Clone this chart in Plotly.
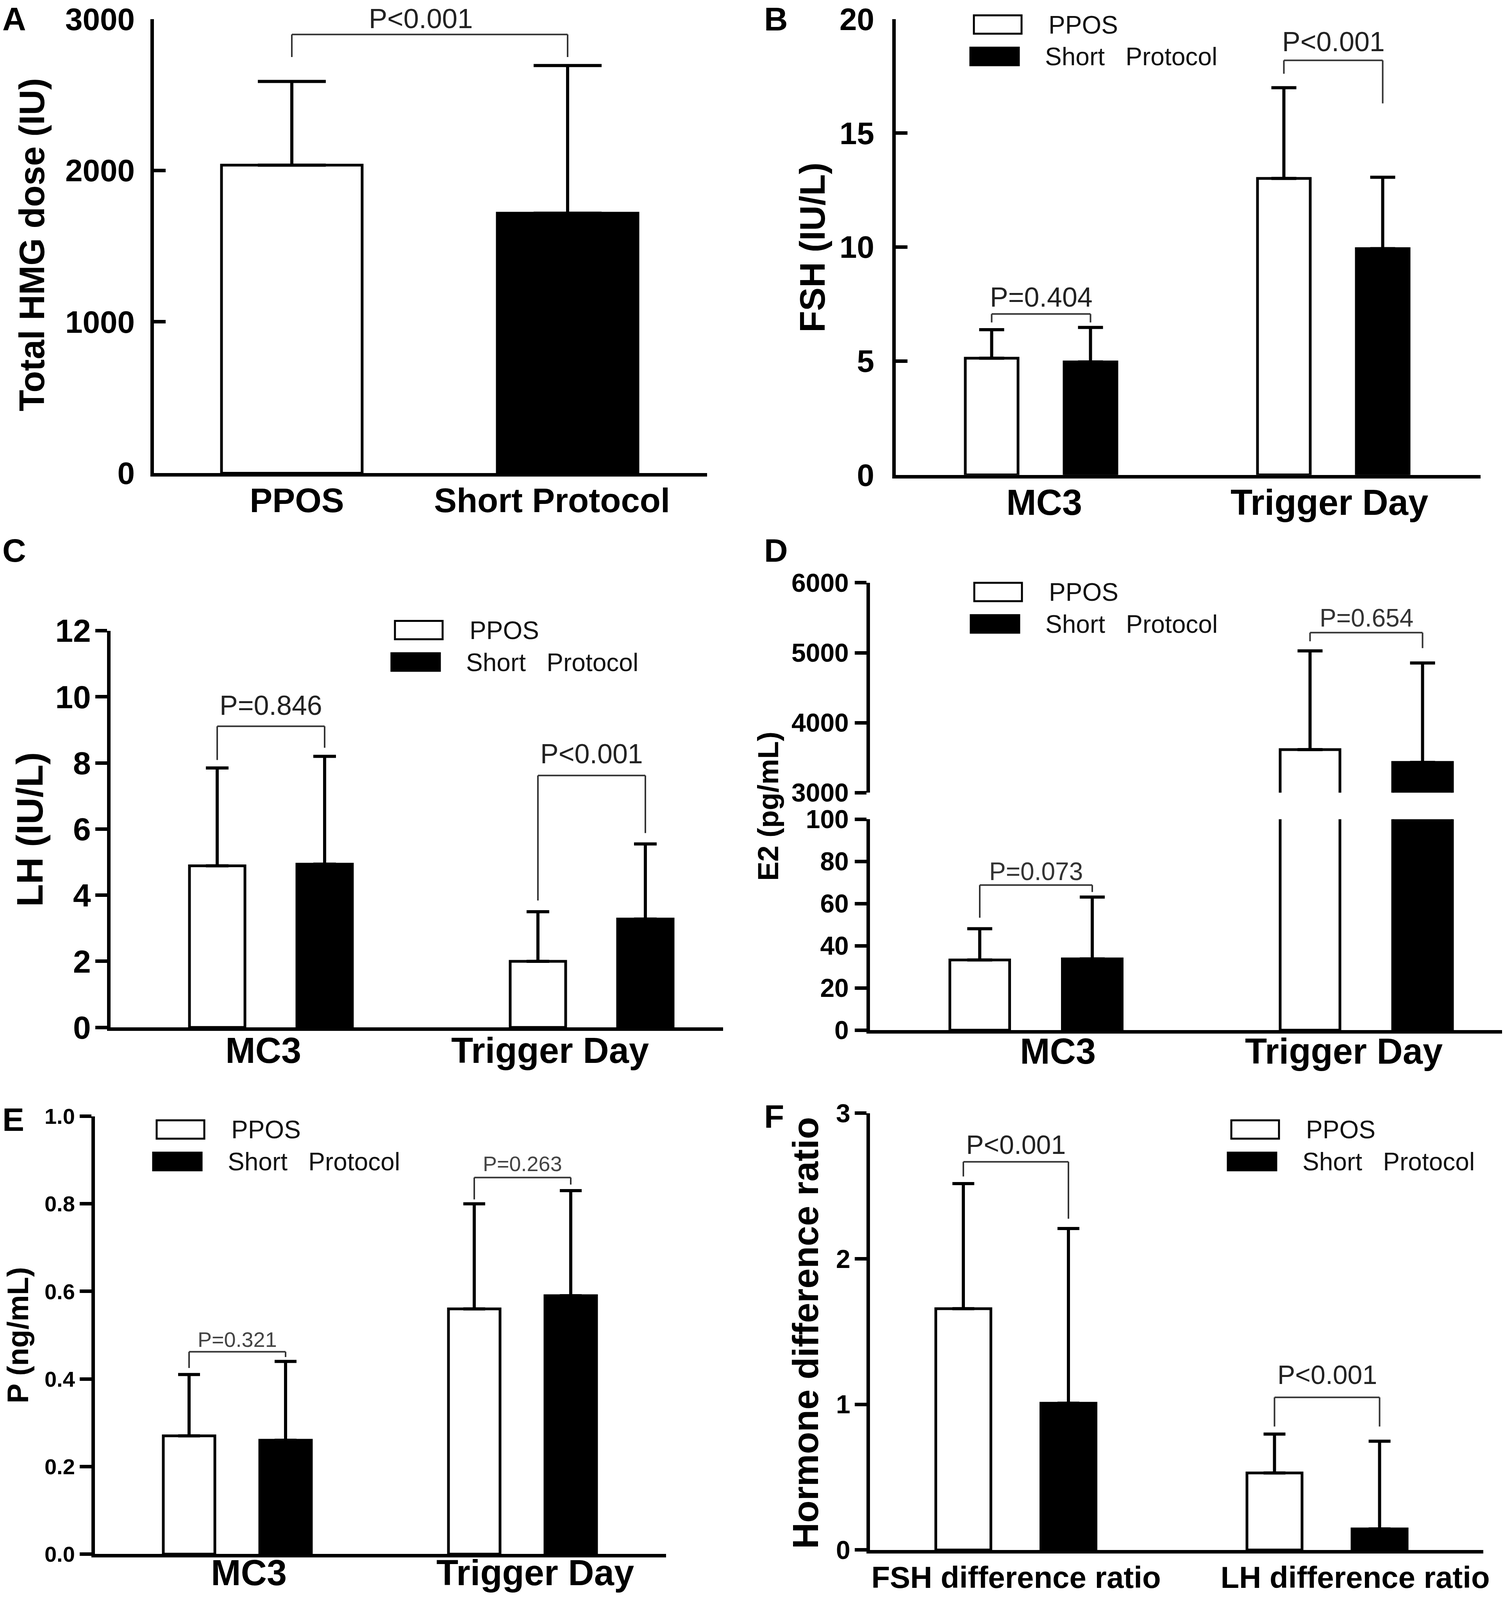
import json
import plotly.graph_objects as go

W, H = 3850, 4703
FONT = "Liberation Sans, Arial, Helvetica, sans-serif"

# ---------------- data ----------------
series_names = ["PPOS", "Short\u00a0\u00a0\u00a0Protocol"]

# A: total HMG dose
a_categories = ["PPOS", "Short Protocol"]
a_mean = [2035, 1718]
a_sd = [553, 975]
a_p = ["P<0.001"]
a_br_top = [2898]
a_br_left = [2749]
a_br_right = [2749]

# B: FSH
b_categories = ["MC3", "Trigger Day"]
b_ppos_mean = [5.12, 13.01]
b_ppos_sd = [1.25, 3.98]
b_short_mean = [4.96, 9.93]
b_short_sd = [1.51, 3.13]
b_p = ["P=0.404", "P<0.001"]
b_br_top = [7.06, 18.19]
b_br_left = [6.69, 17.6]
b_br_right = [6.69, 16.3]
b_p_y = [7.8, 19.0]

# C: LH
c_categories = ["MC3", "Trigger Day"]
c_ppos_mean = [4.89, 2.00]
c_ppos_sd = [2.96, 1.50]
c_short_mean = [4.94, 3.28]
c_short_sd = [3.26, 2.27]
c_p = ["P=0.846", "P<0.001"]
c_br_top = [9.11, 7.62]
c_br_left = [8.09, 3.84]
c_br_right = [8.46, 5.88]
c_p_y = [9.74, 8.28]

# D: E2 (broken axis)
d_categories = ["MC3", "Trigger Day"]
d_ppos_mean = [33.3, 3615]
d_ppos_sd = [14.8, 1412]
d_short_mean = [33.8, 3433]
d_short_sd = [29.3, 1421]
d_p = ["P=0.073", "P=0.654"]
d_br_top = [68.8, 5287]
d_br_left = [53.3, 5164]
d_br_right = [65.5, 5066]
d_p_y = [75.3, 5499]

# E: P
e_categories = ["MC3", "Trigger Day"]
e_ppos_mean = [0.27, 0.56]
e_ppos_sd = [0.14, 0.24]
e_short_mean = [0.26, 0.59]
e_short_sd = [0.18, 0.24]
e_p = ["P=0.321", "P=0.263"]
e_br_top = [0.462, 0.860]
e_br_left = [0.425, 0.81]
e_br_right = [0.45, 0.844]
e_p_y = [0.49, 0.892]

# F: hormone difference ratio
f_categories = ["FSH difference ratio", "LH difference ratio"]
f_ppos_mean = [1.657, 0.529]
f_ppos_sd = [0.859, 0.267]
f_short_mean = [1.008, 0.145]
f_short_sd = [1.200, 0.602]
f_p = ["P<0.001", "P<0.001"]
f_br_top = [2.666, 1.048]
f_br_left = [2.565, 0.848]
f_br_right = [2.275, 0.848]
f_p_y = [2.784, 1.205]

# ---------------- helpers ----------------
def px_x(p):
    return p / W


def px_y(p):
    return 1 - p / H


fig = go.Figure()
layout = dict(width=W, height=H, margin=dict(l=0, r=0, t=0, b=0),
              plot_bgcolor="white", paper_bgcolor="white",
              showlegend=False, barmode="overlay")
shapes = []
annotations = []
label_offsets = {}   # x axis name -> [standoff, label-centre distance from axis]

LINE_W = 9
BAR_LINE = 7
ERR_T = 8


def ax_name(n, kind):
    return kind + ("axis" if n == 1 else "axis%d" % n)


def ref(n, kind):
    return kind if n == 1 else "%s%d" % (kind, n)


def add_xaxis(n, yn, xdom, g, cats, label_px, fsize, standoff, centre_dist):
    s = g[1] - g[0]
    r0 = -(g[0] - xdom[0]) / s
    r1 = (xdom[1] - g[0]) / s
    tickvals = [i + (label_px[i] - g[i]) / s for i in range(len(cats))]
    layout[ax_name(n, "x")] = dict(
        domain=[px_x(xdom[0]), px_x(xdom[1])], range=[r0, r1],
        anchor=ref(yn, "y"), showline=True, linecolor="black", linewidth=LINE_W,
        ticks="", showgrid=False, zeroline=False, tickmode="array",
        tickvals=tickvals, ticktext=cats,
        tickfont=dict(family=FONT, size=fsize, color="black", weight="bold"),
        ticklabelstandoff=standoff, ticklabeloverflow="allow",
        automargin=False, fixedrange=True)
    label_offsets[ax_name(n, "x")] = [standoff, centre_dist]
    return s


def add_yaxis(n, xn, ydom, rng, dtick, ticks, fsize, standoff, fmt=None):
    d = dict(domain=[px_y(ydom[1]), px_y(ydom[0])], range=rng,
             anchor=ref(xn, "x"), showline=True, linecolor="black", linewidth=LINE_W,
             ticks=ticks, ticklen=30, tickwidth=LINE_W, tickcolor="black",
             tickmode="linear", tick0=0, dtick=dtick, showgrid=False, zeroline=False,
             tickfont=dict(family=FONT, size=fsize, color="black", weight="bold"),
             ticklabelstandoff=standoff, ticklabeloverflow="allow",
             automargin=False, fixedrange=True)
    if fmt:
        d["tickformat"] = fmt
    layout[ax_name(n, "y")] = d


def add_pair(xn, yn, means_p, sd_p, means_s, sd_s, half_u, w_u, cap):
    xs = list(range(len(means_p)))
    for means, sds, col, off in [(means_p, sd_p, "white", -half_u - w_u / 2),
                                 (means_s, sd_s, "black", half_u - w_u / 2)]:
        fig.add_trace(go.Bar(
            x=xs, y=means, xaxis=ref(xn, "x"), yaxis=ref(yn, "y"),
            offset=off, width=w_u,
            marker=dict(color=col, line=dict(color="black", width=BAR_LINE)),
            error_y=dict(type="data", symmetric=False, array=sds,
                         arrayminus=[0 if v is not None else None for v in sds],
                         color="black", thickness=ERR_T, width=cap),
            hoverinfo="skip"))


def add_brackets(xn, yn, xl, xr, top, left_end, right_end, p_txt, p_y, fsize, color):
    for i in range(len(top)):
        for (xa, ya, xb, yb) in [(xl[i], left_end[i], xl[i], top[i]),
                                 (xl[i], top[i], xr[i], top[i]),
                                 (xr[i], top[i], xr[i], right_end[i])]:
            shapes.append(dict(type="line", xref=ref(xn, "x"), yref=ref(yn, "y"),
                               x0=xa, y0=ya, x1=xb, y1=yb,
                               line=dict(color="#333333", width=4)))
        if p_y is not None:
            annotations.append(dict(x=(xl[i] + xr[i]) / 2, y=p_y[i],
                                    xref=ref(xn, "x"), yref=ref(yn, "y"),
                                    text=p_txt[i], showarrow=False,
                                    xanchor="center", yanchor="middle",
                                    font=dict(family=FONT, size=fsize, color=color)))


def add_legend(left, top):
    shapes.append(dict(type="rect", xref="paper", yref="paper",
                       x0=px_x(left + 10), x1=px_x(left + 132),
                       y0=px_y(top + 54), y1=px_y(top),
                       fillcolor="white", line=dict(color="black", width=5)))
    shapes.append(dict(type="rect", xref="paper", yref="paper",
                       x0=px_x(left), x1=px_x(left + 126),
                       y0=px_y(top + 148), y1=px_y(top + 94),
                       fillcolor="black", line=dict(color="black", width=3)))
    for k, (tx, ty) in enumerate([(left + 199, top + 28), (left + 190, top + 122)]):
        annotations.append(dict(x=px_x(tx), y=px_y(ty), xref="paper", yref="paper",
                                text=series_names[k], showarrow=False,
                                xanchor="left", yanchor="middle",
                                font=dict(family=FONT, size=64, color="#111111")))


def add_text(xp, yp, txt, size, bold=True, angle=0, anchor="center", color="black",
             vanchor="middle"):
    annotations.append(dict(x=px_x(xp), y=px_y(yp), xref="paper", yref="paper",
                            text=txt, showarrow=False, textangle=angle,
                            xanchor=anchor, yanchor=vanchor,
                            font=dict(family=FONT, size=size, color=color,
                                      weight="bold" if bold else "normal")))


def add_letter(xp, ytop, letter):
    add_text(xp, ytop, letter, 84, anchor="left", vanchor="top")


# ---------------- Panel A ----------------
sA = add_xaxis(1, 1, (394, 1810), (747, 1453), a_categories, (760, 1413), 87, -3, 89)
add_yaxis(1, 1, (56, 1391), [0, 3000], 1000, "inside", 80, 24)
fig.add_trace(go.Bar(
    x=list(range(len(a_mean))), y=a_mean, xaxis="x", yaxis="y", width=360 / sA,
    marker=dict(color=["white", "black"], line=dict(color="black", width=BAR_LINE)),
    error_y=dict(type="data", symmetric=False, array=a_sd, arrayminus=[0, 0],
                 color="black", thickness=ERR_T, width=87),
    hoverinfo="skip"))
add_brackets(1, 1, [0], [1], a_br_top, a_br_left, a_br_right, a_p, None, 71, "#222222")
add_text(1077, 55, a_p[0], 71, bold=False, color="#222222")
add_text(82, 720, "Total HMG dose (IU)", 90, angle=-90)
add_letter(4, 0, "A")

# ---------------- Panel B ----------------
sB = add_xaxis(2, 2, (2293, 3790), (2665, 3413), b_categories, (2673, 3403), 92, -6, 89)
add_yaxis(2, 2, (56, 1396), [0, 20], 5, "inside", 80, 30)
hB, wB = 126.5 / sB, 135 / sB
add_pair(2, 2, b_ppos_mean, b_ppos_sd, b_short_mean, b_short_sd, hB, wB, 32)
add_brackets(2, 2, [i - hB for i in range(2)], [i + hB for i in range(2)],
             b_br_top, b_br_left, b_br_right, b_p, b_p_y, 70, "#222222")
add_legend(2483, 45)
add_text(2080, 728, "FSH (IU/L)", 90, angle=-90)
add_letter(1954, 0, "B")

# ---------------- Panel C ----------------
sC = add_xaxis(3, 3, (283, 1851), (693.5, 1514.5), c_categories, (674, 1408), 92, -19, 77)
add_yaxis(3, 3, (1854, 3020), [0, 12], 2, "outside", 82, -5)
hC, wC = 137.5 / sC, 142 / sC
add_pair(3, 3, c_ppos_mean, c_ppos_sd, c_short_mean, c_short_sd, hC, wC, 29)
add_brackets(3, 3, [i - hC for i in range(2)], [i + hC for i in range(2)],
             c_br_top, c_br_left, c_br_right, c_p, c_p_y, 70, "#222222")
add_legend(1001, 1825)
add_text(76, 2438, "LH (IU/L)", 95, angle=-90)
add_letter(4, 1562, "C")

# ---------------- Panel D (broken y axis) ----------------
D_LOW_TOP = 100
D_UP_BOTTOM = 3000
sD = add_xaxis(4, 4, (2227, 3845), (2652, 3497.5), d_categories, (2708, 3440), 92, -25, 69)
add_yaxis(4, 4, (2408, 3028), [0, D_LOW_TOP], 20, "outside", 66, 2)
add_yaxis(7, 4, (1713, 2330), [D_UP_BOTTOM, 6000], 1000, "outside", 66, 2)
hD, wD = 144 / sD, 153 / sD
low_p_sd = [s if m < D_LOW_TOP else None for m, s in zip(d_ppos_mean, d_ppos_sd)]
low_s_sd = [s if m < D_LOW_TOP else None for m, s in zip(d_short_mean, d_short_sd)]
up_p_sd = [s if m > D_UP_BOTTOM else None for m, s in zip(d_ppos_mean, d_ppos_sd)]
up_s_sd = [s if m > D_UP_BOTTOM else None for m, s in zip(d_short_mean, d_short_sd)]
add_pair(4, 4, d_ppos_mean, low_p_sd, d_short_mean, low_s_sd, hD, wD, 32)
add_pair(4, 7, d_ppos_mean, up_p_sd, d_short_mean, up_s_sd, hD, wD, 32)
add_brackets(4, 4, [0 - hD], [0 + hD], d_br_top[:1], d_br_left[:1], d_br_right[:1],
             d_p[:1], d_p_y[:1], 64, "#333333")
add_brackets(4, 7, [1 - hD], [1 + hD], d_br_top[1:], d_br_left[1:], d_br_right[1:],
             d_p[1:], d_p_y[1:], 64, "#333333")
add_legend(2484, 1713)
add_text(1966, 2370, "E2 (pg/mL)", 74, angle=-90)
add_letter(1954, 1562, "D")

# ---------------- Panel E ----------------
sE = add_xaxis(5, 5, (243, 1705), (607.5, 1337.5), e_categories, (637, 1370), 92, -32, 65)
add_yaxis(5, 5, (3281, 4568), [0, 1.0], 0.2, "outside", 56, 1, fmt=".1f")
hE, wE = 123.5 / sE, 132 / sE
add_pair(5, 5, e_ppos_mean, e_ppos_sd, e_short_mean, e_short_sd, hE, wE, 28)
add_brackets(5, 5, [i - hE for i in range(2)], [i + hE for i in range(2)],
             e_br_top, e_br_left, e_br_right, e_p, e_p_y, 54, "#444444")
add_legend(391, 3293)
add_text(45, 3925, "P (ng/mL)", 76, angle=-90)
add_letter(4, 3234, "E")

# ---------------- Panel F ----------------
sF = add_xaxis(6, 6, (2227, 3797), (2600.5, 3397), f_categories, (2601, 3469), 78, 6, 91)
add_yaxis(6, 6, (3272, 4556), [0, 3], 1, "outside", 66, -2)
hF, wF = 134.5 / sF, 141 / sF
add_pair(6, 6, f_ppos_mean, f_ppos_sd, f_short_mean, f_short_sd, hF, wF, 28)
add_brackets(6, 6, [i - hF for i in range(2)], [i + hF for i in range(2)],
             f_br_top, f_br_left, f_br_right, f_p, f_p_y, 68, "#222222")
add_legend(3142, 3293)
add_text(2062, 3918, "Hormone difference ratio", 93, angle=-90)
add_letter(1954, 3225, "F")

layout["shapes"] = shapes
layout["annotations"] = annotations
fig.update_layout(**layout)

# If the browser viewport is shorter than the figure, let the figure fill the
# viewport height (all positions are in paper fractions, so it scales evenly).
post = (
    "document.body.style.margin='0';"
    "var gd=document.getElementById('{plot_id}');"
    "var FH=%d; var vh=window.innerHeight; var offs=%s;"
    "if(vh && vh < FH){"
    "  var k=vh/FH; var u={height: vh};"
    "  for(var n in offs){u[n+'.ticklabelstandoff']=Math.round(offs[n][0]-(1-k)*offs[n][1]);}"
    "  gd.style.height=vh+'px';"
    "  Plotly.relayout(gd,u);"
    "}"
) % (H, json.dumps(label_offsets))
fig.write_html("out.html", post_script=post, config={"displayModeBar": False})
